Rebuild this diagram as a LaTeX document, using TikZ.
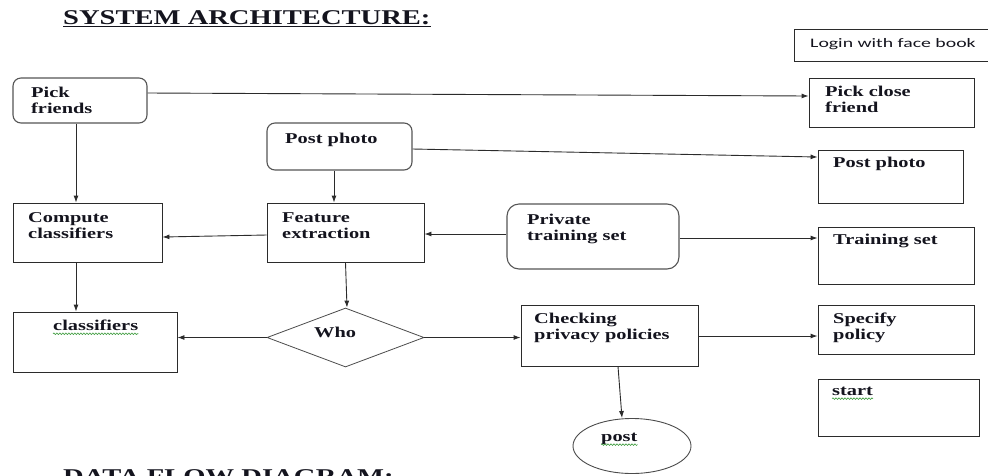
\documentclass[tikz,border=0pt]{standalone}
\usepackage{fontspec}
\setmainfont{Liberation Serif}[FakeStretch=1.36]
\newfontfamily\loginfont{Carlito}[FakeStretch=1.52]
\usetikzlibrary{arrows.meta,shapes.geometric,decorations.pathmorphing}
\definecolor{ln}{HTML}{2B2B2B}
\definecolor{txt}{HTML}{14141E}
\definecolor{squig}{HTML}{3C9A3C}
\tikzset{
  box/.style={draw=ln, line width=0.9pt, rectangle, inner sep=0pt},
  rbox/.style={draw=ln!80, line width=1.1pt, rectangle, rounded corners=8pt, inner sep=0pt},
  lbl/.style={anchor=north west, inner sep=0pt, align=left, text=txt,
              font=\fontsize{15}{16}\selectfont\bfseries},
  arr/.style={draw=ln, line width=0.9pt, -{Latex[length=7pt,width=5pt]}},
  squigline/.style={draw=squig, line width=0.6pt,
              decorate, decoration={snake, segment length=3pt, amplitude=0.8pt}},
}
\begin{document}
\begin{tikzpicture}[x=1pt,y=-1pt]
\useasboundingbox (0,0) rectangle (988,475);
\clip (0,0) rectangle (988,475);

% title
\node[anchor=north west, inner sep=0pt, text=txt, font=\fontsize{21}{24}\selectfont\bfseries] (title) at (63,10) {SYSTEM ARCHITECTURE:};
\draw[line width=1pt, txt] ([yshift=-2pt]title.base west) -- ([yshift=-2pt]title.base east);

% boxes
\node[box, minimum width=201pt, minimum height=32pt] (login) at (894.5,45) {};
\node[rbox, minimum width=134pt, minimum height=45pt] (pf) at (80,100.5) {};
\node[box, minimum width=165pt, minimum height=49pt] (pcf) at (891.5,102.5) {};
\node[rbox, minimum width=145pt, minimum height=47pt] (pp) at (339.5,146.5) {};
\node[box, minimum width=145pt, minimum height=53pt] (ppr) at (890.5,176.5) {};
\node[box, minimum width=149pt, minimum height=59pt] (cc) at (87.5,232.5) {};
\node[box, minimum width=157pt, minimum height=59pt] (fe) at (345.5,232.5) {};
\node[rbox, minimum width=172pt, minimum height=65pt, rounded corners=12pt] (pts) at (593,236.5) {};
\node[box, minimum width=156pt, minimum height=57pt] (ts) at (896,255.5) {};
\node[box, minimum width=164pt, minimum height=60pt] (cl) at (95,342) {};
\node[diamond, draw=ln!85, line width=0.8pt, inner sep=0pt, minimum width=157pt, minimum height=59pt] (who) at (345.5,337.5) {};
\node[box, minimum width=177pt, minimum height=61pt] (cpp) at (609.5,335.5) {};
\node[box, minimum width=156pt, minimum height=49pt] (sp) at (896,329.5) {};
\node[box, minimum width=161pt, minimum height=57pt] (st) at (898.5,407.5) {};
\node[ellipse, draw=ln!85, line width=0.9pt, inner sep=0pt, minimum width=118pt, minimum height=55pt] (post) at (632,446) {};

% labels
\node[lbl, font=\fontsize{13}{15}\selectfont\loginfont] (loginT) at (810,38) {Login with face book};
\node[lbl] (pfT) at (31,87) {Pick\\friends};
\node[lbl] (pcfT) at (825,86) {Pick close\\friend};
\node[lbl] (ppT) at (285,133) {Post photo};
\node[lbl] (pprT) at (833,157) {Post photo};
\node[lbl] (ccT) at (28,212) {Compute\\classifiers};
\node[lbl] (feT) at (282,212) {Feature\\extraction};
\node[lbl] (ptsT) at (527,214) {Private\\training set};
\node[lbl] (tsT) at (833,234) {Training set};
\node[lbl] (clT) at (53,320) {classifiers};
\node[lbl] (whoT) at (314,327) {Who};
\node[lbl] (cppT) at (534,313) {Checking\\privacy policies};
\node[lbl] (spT) at (833,313) {Specify\\policy};
\node[lbl] (stT) at (832,387) {start};
\node[lbl] (postT) at (601,433) {post};

% spell-check squiggles
\draw[squigline] ([yshift=-3pt]clT.base west) -- ([yshift=-3pt]clT.base east);
\draw[squigline] ([yshift=-3pt]stT.base west) -- ([yshift=-3pt]stT.base east);
\draw[squigline] ([yshift=-3pt]postT.base west) -- ([yshift=-3pt]postT.base east);

% connectors
\draw[arr] ([yshift=7.5pt]pf.east) -- ([yshift=6.5pt]pcf.west);
\draw[arr] ([yshift=-2.5pt]pp.east) -- ([yshift=19.5pt]ppr.west);
\draw[arr] ([xshift=-4pt]pf.south) -- ([xshift=-4pt]pf.south |- cc.north);
\draw[arr] ([xshift=-5.5pt]pp.south) -- ([xshift=-5.5pt]pp.south |- fe.north);
\draw[arr] ([yshift=-2.5pt]fe.west) -- ([yshift=-4.5pt]cc.east);
\draw[arr] ([yshift=2.5pt]pts.west) -- ([yshift=-1.5pt]fe.east);
\draw[arr] ([yshift=-1.5pt]pts.east) -- ([yshift=17.5pt]ts.west);
\draw[arr] ([xshift=-11.5pt]cc.south) -- ([xshift=-11.5pt]cc.south |- cl.north);
\draw[arr] (fe.south) -- ([xshift=1.5pt]who.north);
\draw[arr] (who.west) -- (who.west -| cl.east);
\draw[arr] (who.east) -- (who.east -| cpp.west);
\draw[arr] ([yshift=-0.5pt]cpp.east) -- ([yshift=-0.5pt]cpp.east -| sp.west);
\draw[arr] ([xshift=8.5pt]cpp.south) -- ([xshift=-10pt]post.north);

% cut-off heading at the bottom (only its top shows, as in the reference)
\node[anchor=base west, inner sep=0pt, text=txt, font=\fontsize{21}{24}\selectfont\bfseries] (dfd) at (63,483) {DATA FLOW DIAGRAM:};
\end{tikzpicture}
\end{document}
